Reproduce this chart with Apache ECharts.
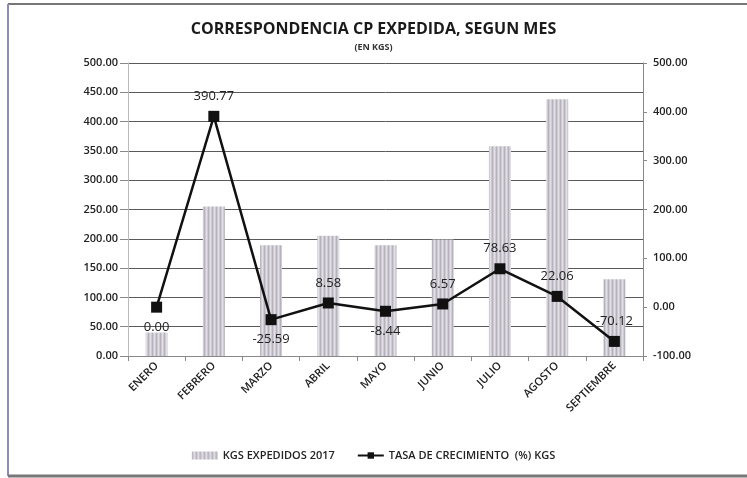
<!DOCTYPE html>
<html>
<head>
<meta charset="utf-8">
<script src="https://cdn.jsdelivr.net/npm/echarts@6/dist/echarts.min.js"></script>
<style>
  html, body { margin: 0; padding: 0; background: #fff; }
  #charts { width: 747px; height: 478px; }
</style>
</head>
<body>
<div id="charts"></div>
<script>
// meses
const months = ['ENERO', 'FEBRERO', 'MARZO', 'ABRIL', 'MAYO', 'JUNIO', 'JULIO', 'AGOSTO', 'SEPTIEMBRE']
// kgs expedidos 2017 (eje izquierdo)
const kgs = [40, 255, 189, 205, 189, 199, 358, 438, 131]
// tasa de crecimiento % (eje derecho)
const rate = [0.0, 390.77, -25.59, 8.58, -8.44, 6.57, 78.63, 22.06, -70.12]
// posicion de las etiquetas
const labelPos = ['bottom', 'top', 'bottom', 'top', 'bottom', 'top', 'top', 'top', 'top']

// textura rayada de las barras
function stripePattern() {
  const c = document.createElement('canvas')
  c.width = 4
  c.height = 4
  const ctx = c.getContext('2d')
  ctx.fillStyle = '#cecbd3'
  ctx.fillRect(0, 0, 4, 4)
  ctx.fillStyle = '#b5b2bd'
  ctx.fillRect(0, 0, 1, 4)
  ctx.fillStyle = '#e2e0e6'
  ctx.fillRect(2, 0, 1, 4)
  return c
}

const font = '"Open Sans", sans-serif'
const charts = echarts.init(document.getElementById('charts'))

const option = {
  backgroundColor: '#fff',
  animation: false,
  textStyle: { fontFamily: font },
  title: {
    text: 'CORRESPONDENCIA CP EXPEDIDA, SEGUN MES',
    subtext: '(EN KGS)',
    left: 'center',
    top: 16,
    itemGap: 6,
    textStyle: { fontFamily: font, fontSize: 16, fontWeight: 'bold', color: '#1a1a1a' },
    subtextStyle: { fontFamily: font, fontSize: 9, fontWeight: 'bold', color: '#333' }
  },
  graphic: [
    { type: 'line', shape: { x1: 8, y1: 4, x2: 747, y2: 4 }, style: { stroke: '#777', lineWidth: 2 } },
    { type: 'line', shape: { x1: 8, y1: 4, x2: 8, y2: 476 }, style: { stroke: '#8a8cc0', lineWidth: 2 } },
    { type: 'line', shape: { x1: 8, y1: 476, x2: 747, y2: 476 }, style: { stroke: '#777', lineWidth: 3 } }
  ],
  legend: {
    bottom: 12,
    left: 'center',
    itemGap: 22,
    itemWidth: 26,
    itemHeight: 8,
    textStyle: { fontFamily: font, fontSize: 11, fontWeight: 600, color: '#222' },
    data: [
      { name: 'KGS EXPEDIDOS 2017', icon: 'rect' },
      { name: 'TASA DE CRECIMIENTO  (%) KGS' }
    ]
  },
  grid: { left: 128, right: 104, top: 63, bottom: 122 },
  xAxis: [
    {
      type: 'category',
      data: months,
      boundaryGap: true,
      axisLine: { lineStyle: { color: '#888' } },
      axisTick: { show: true, lineStyle: { color: '#888' } },
      axisLabel: { rotate: 45, fontSize: 11, fontWeight: 600, color: '#222', margin: 8 }
    }
  ],
  yAxis: [
    {
      type: 'value',
      min: 0,
      max: 500,
      interval: 50,
      axisLine: { show: true, lineStyle: { color: '#bbb' } },
      axisTick: { show: true, length: 8, lineStyle: { color: '#888' } },
      axisLabel: { formatter: v => v.toFixed(2), fontSize: 11, fontWeight: 600, color: '#222', margin: 10 },
      splitLine: { lineStyle: { color: '#5a5a5a', width: 1 } }
    },
    {
      type: 'value',
      min: -100,
      max: 500,
      interval: 100,
      axisLine: { show: true, lineStyle: { color: '#888' } },
      axisTick: { show: true, length: 4, lineStyle: { color: '#888' } },
      axisLabel: { formatter: v => v.toFixed(2), fontSize: 11, fontWeight: 600, color: '#222', margin: 10 },
      splitLine: { show: false }
    }
  ],
  series: [
    {
      name: 'KGS EXPEDIDOS 2017',
      type: 'bar',
      data: kgs,
      barWidth: 22,
      itemStyle: {
        color: { image: stripePattern(), repeat: 'repeat' }
      }
    },
    {
      name: 'TASA DE CRECIMIENTO  (%) KGS',
      type: 'line',
      yAxisIndex: 1,
      data: rate.map((v, i) => ({ value: v, label: { position: labelPos[i] } })),
      symbol: 'rect',
      symbolSize: 11,
      lineStyle: { color: '#111', width: 2.5 },
      itemStyle: { color: '#111' },
      label: {
        show: true,
        distance: 8,
        fontFamily: font,
        fontSize: 13,
        color: '#222',
        formatter: p => p.value.toFixed(2)
      }
    }
  ]
}
charts.setOption(option)
</script>
</body>
</html>
